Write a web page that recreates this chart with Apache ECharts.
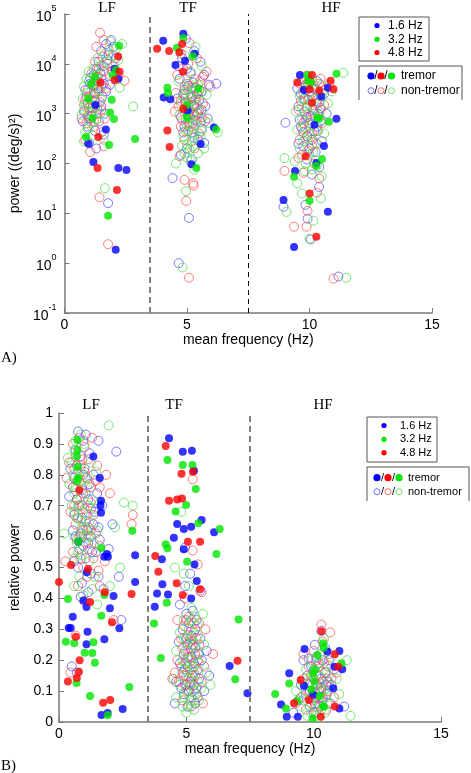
<!DOCTYPE html>
<html><head><meta charset="utf-8">
<script src="https://cdn.jsdelivr.net/npm/echarts@6/dist/echarts.min.js"></script>
<style>html,body{margin:0;padding:0;background:#fff}#c{width:471px;height:773px}</style>
</head><body><div id="c"></div>
<script>
// ---------- data: panel A (mean frequency Hz, power (deg/s)^2) ----------
const dividers = [3.5, 7.5];
const bandLabels = ['LF', 'TF', 'HF'];
const legendFreqs = ['1.6 Hz', '3.2 Hz', '4.8 Hz'];

const aBlueTremor = [[2.05,8e3],[2.2,5e3],[1.27,1.5e3],[1.69,480],[0.98,250],[1.18,107],[2.2,81],[2.53,74],[2.09,1.86],
 [4.03,2.9e4],[4.85,4e4],[5.31,1.6e4],[4.92,1.15e4],[4.53,9.5e3],[4.05,2.1e3],[4.32,1.95e3],[5.03,1.15e3],[6.1,530],[5.56,245],[5.18,97],
 [9.61,6e3],[9.77,3e3],[10.75,3.3e3],[10.48,2.2e3],[11.1,790],[10.2,600],[10.59,225],[10.28,102],[9.41,71],[8.94,18.5],[10.75,10.7],[9.37,2.1]];
const aGreenTremor = [[2.23,2.3e4],[2.1,7.5e3],[1.96,6e3],[1.93,1.9e3],[1.86,1.05e3],[2.02,780],[1.14,810],[0.98,2e3],[0.88,340],[1.82,235],[2.88,310],[1.78,8.9],[1.1,4e3],[1.25,5.5e3],
 [4.59,2.1e4],[4.85,3.3e4],[5.24,1.4e4],[4.2,3.3e3],[4.22,2.6e3],[5.47,3.2e3],[5.0,1.5e3],[5.0,830],[6.19,480],[5.38,81],
 [9.91,6e3],[9.95,4.7e3],[10.07,4.2e3],[11.1,6.3e3],[10.33,830],[10.4,800],[10.79,690],[10.51,123],[10.28,90],[9.37,54],[10.0,17.8]];
const aRedTremor = [[2.19,1.4e4],[2.25,6.9e3],[2.05,4.7e3],[1.47,4.2e3],[1.38,340],[1.35,81],[2.14,29.5],
 [3.78,2e4],[4.27,1.8e4],[4.8,2.5e4],[4.69,1.7e4],[4.84,6.9e3],[4.85,1.25e3],[4.2,460],[4.29,215],
 [9.5,4.2e3],[10.1,6e3],[10.86,4.6e3],[10.0,3.1e3],[10.4,2.9e3],[10.98,3.1e3],[10.1,1.65e3],[9.84,140],[10.0,25],[10.28,3.4]];

const aBlueNon = [[1.9,3.0e4],[1.7,2.5e4],[2.0,2.2e4],[1.5,1.8e4],[1.8,1.5e4],[2.1,1.3e4],[1.4,1.1e4],[1.6,9e3],[1.95,7e3],[1.2,6e3],[1.5,5e3],[1.05,4e3],[1.35,3.2e3],[1.7,2.8e3],[0.9,2.2e3],[1.2,1.8e3],[1.5,1.4e3],[0.8,1.1e3],[1.1,900],[1.4,700],[0.95,550],[1.25,450],[1.6,380],[1.0,260],[1.3,200],[1.78,16],[1.85,3.8e3],
 [1.25,2.6e3],[1.55,2.2e3],[0.95,1.6e3],[1.35,1.2e3],[1.65,1.0e3],[1.0,800],[1.2,3.6e3],[1.45,6.5e3],[1.75,1.2e4],[1.3,8e3],[1.05,5.2e3],[0.85,3e3],[1.6,4e3],[1.15,1.3e3],[0.75,700],
 [4.95,3.2e4],[5.3,1.8e4],[4.8,1.3e4],[5.55,1.1e4],[5.0,8e3],[5.7,6e3],[4.7,5e3],[5.25,4.2e3],[5.9,3.8e3],[4.9,3e3],[5.4,2.5e3],[4.6,2e3],[5.15,1.7e3],[5.75,1.4e3],[4.95,1.2e3],[5.45,1e3],[5.85,800],[5.1,650],[5.6,500],[4.85,420],[5.3,330],[5.7,260],[5.0,200],[4.75,150],[5.2,120],[4.41,51],[5.08,8.1],[4.66,1.0],[6.2,4e3],
 [5.05,3.6e3],[5.35,3.3e3],[5.6,2.8e3],[4.85,2.5e3],[5.2,2.1e3],[5.5,1.9e3],[4.95,1.6e3],[5.3,1.4e3],[5.6,1.2e3],[5.05,950],[5.35,750],[4.75,850],[5.55,680],[5.2,420],[5.45,300],[4.9,550],[5.15,6.5e3],[4.65,9e3],
 [9.7,5e3],[10.3,4.5e3],[9.5,3.2e3],[10.0,2.8e3],[10.6,2.5e3],[9.8,2e3],[10.4,1.7e3],[9.55,1.4e3],[10.15,1.2e3],[10.7,1e3],[9.9,850],[10.45,700],[9.65,550],[10.2,450],[9.9,350],[10.5,280],[9.75,220],[10.25,170],[9.9,120],[10.4,85],[10.1,60],[9.02,660],[8.94,13.5],[9.92,7.8],[10.05,3.0],[11.18,0.54],[9.84,14.8],[10.39,34],
 [9.85,3.8e3],[10.2,3.2e3],[9.65,2.5e3],[10.1,2.2e3],[10.45,1.3e3],[9.8,1.1e3],[10.05,900],[10.35,1e3],[9.6,750],[10.0,650],[10.3,550],[9.75,420],[10.1,300],[9.55,250],[10.0,200]];
const aRedNon = [[1.45,4.2e4],[1.6,3e4],[1.3,2.2e4],[1.8,1.9e4],[1.55,1.4e4],[1.25,1.1e4],[1.75,1e4],[1.4,8e3],[2.45,4.6e3],[2.2,5.5e3],[1.1,6.5e3],[1.3,4.5e3],[1.55,3.6e3],[0.95,3e3],[1.2,2.5e3],[0.85,1.9e3],[1.45,1.7e3],[1.0,1.3e3],[0.7,800],[1.3,1e3],[0.9,650],[1.2,550],[1.5,420],[0.85,300],[1.05,170],[1.43,21],[1.78,2.4],[1.6,220],
 [1.35,5.5e3],[1.6,7e3],[1.15,3.8e3],[1.4,2.8e3],[1.7,3.2e3],[1.0,2.2e3],[1.25,1.9e3],[0.8,1.5e3],[1.1,1.1e3],[1.5,1.2e3],[0.95,900],[1.65,800],[1.2,700],[2.0,9e3],[1.85,6e3],
 [5.1,2.6e4],[4.75,1.6e4],[5.4,1.3e4],[5.05,1e4],[5.8,7e3],[4.6,6e3],[5.3,5e3],[5.95,3.5e3],[5.0,4e3],[4.55,2.6e3],[5.5,3e3],[5.2,2.2e3],[4.75,1.8e3],[5.65,1.6e3],[5.05,1.4e3],[4.5,1.1e3],[5.35,900],[5.75,700],[4.8,750],[5.15,550],[5.5,400],[4.9,300],[5.3,200],[4.7,140],[4.9,47],[5.27,36],[4.97,17.8],[5.08,0.51],[5.25,40],[5.55,4.5e3],
 [4.9,3.5e3],[5.2,3.3e3],[5.45,2.5e3],[4.9,2.0e3],[5.35,1.9e3],[4.95,1.7e3],[5.25,1.5e3],[5.5,1.2e3],[4.65,1.4e3],[5.1,1.1e3],[5.4,1.05e3],[4.95,800],[5.6,850],[5.25,650],[5.05,450],[4.75,550],[5.65,5.5e3],[4.85,8e3],
 [9.9,5.8e3],[10.45,5e3],[9.6,4e3],[10.2,3.5e3],[10.8,3.8e3],[9.75,2.6e3],[10.35,2.3e3],[9.95,1.9e3],[10.6,1.5e3],[9.55,1.2e3],[10.2,1e3],[9.85,800],[10.5,650],[9.7,500],[10.1,400],[9.6,300],[10.3,250],[9.95,180],[9.55,130],[10.2,100],[9.75,65],[10.4,50],[8.98,71],[9.37,5.4],[9.88,5.4],[10.98,0.49],[9.92,11.2],[10.3,26],
 [10.0,4.5e3],[10.4,4e3],[9.8,3.3e3],[10.6,3e3],[10.1,2.6e3],[9.65,1.8e3],[10.3,1.6e3],[9.9,1.3e3],[10.45,1.2e3],[10.05,750],[9.75,650],[10.35,450],[9.9,350],[10.1,230],[9.7,150]];
const aGreenNon = [[2.35,2.5e4],[2.1,2e4],[1.85,2.8e4],[1.65,1.6e4],[2.2,1.2e4],[1.35,1.3e4],[1.0,7e3],[0.9,5e3],[1.15,4e3],[0.8,3.5e3],[1.45,3e3],[2.25,3.3e3],[0.75,2e3],[1.05,1.5e3],[2.8,1.4e3],[0.8,1.2e3],[1.3,750],[0.95,500],[1.6,300],[0.8,280],[1.15,360],[1.65,32],[1.3,6e3],
 [1.2,8e3],[1.5,9e3],[1.0,4.5e3],[1.3,3.5e3],[0.9,2.6e3],[1.15,2.2e3],[1.5,1.9e3],[0.85,1.6e3],[1.25,1.3e3],[1.05,1.1e3],[0.7,950],[1.45,1e3],[1.1,650],[0.85,420],[1.7,1.1e4],[2.0,1.5e4],
 [5.35,2.2e4],[4.9,1.5e4],[5.6,9e3],[5.15,7e3],[4.65,4.5e3],[5.45,3.8e3],[5.0,3.2e3],[5.8,2.4e3],[4.85,2.2e3],[5.3,1.9e3],[5.6,1.1e3],[4.7,950],[5.1,800],[5.9,650],[5.35,600],[4.95,450],[5.55,350],[5.2,280],[4.8,230],[5.1,190],[5.45,160],[5.0,130],[4.55,100],[5.3,75],[4.95,28],[4.82,0.82],[6.25,420],[5.7,200],
 [5.1,4e3],[5.35,3e3],[4.95,2.6e3],[5.6,2.7e3],[5.15,2.3e3],[4.75,1.6e3],[5.05,1.3e3],[5.4,1.5e3],[5.2,1e3],[4.9,1.1e3],[5.5,800],[5.0,600],[5.25,500],[5.6,450],[4.85,350],[5.3,370],[5.0,240],[5.25,220],[4.9,160],[5.15,110],
 [10.1,5.5e3],[11.38,6.6e3],[9.8,4.5e3],[10.5,3.8e3],[10.9,2.8e3],[9.6,2.3e3],[10.25,2e3],[10.75,1.6e3],[9.9,1.4e3],[9.45,1.1e3],[10.4,950],[9.7,750],[10.1,600],[9.5,480],[10.6,400],[9.85,320],[10.25,260],[9.6,200],[10.0,150],[9.4,110],[10.3,90],[9.8,70],[10.5,55],[8.98,128],[9.06,10.7],[10.16,7.1],[10.0,3.1],[11.5,0.51],[9.69,25],[10.47,20],[9.5,40],
 [9.95,3.6e3],[10.3,2.9e3],[9.75,2e3],[10.5,2.2e3],[10.05,1.7e3],[9.7,1.3e3],[10.2,1.2e3],[9.95,1e3],[10.5,750],[9.8,550],[10.3,450],[10.0,380],[9.75,280],[10.15,170],[9.85,100],[10.1,75]];

// ---------- data: panel B (mean frequency Hz, relative power) ----------
const bBlueTremor = [[1.35,0.859],[1.6,0.79],[1.65,0.716],[1.63,0.70],[1.65,0.677],[0.76,0.583],[1.78,0.535],[1.88,0.544],[1.92,0.535],[2.99,0.54],[1.09,0.485],
 [0.96,0.393],[1.08,0.372],[2.14,0.408],[2.99,0.453],[0.54,0.341],[0.38,0.304],[0.46,0.304],[1.12,0.292],[1.08,0.252],[1.78,0.268],[2.0,0.368],[2.37,0.303],[2.5,0.042],[1.67,0.023],[1.91,0.029],
 [4.32,0.918],[4.86,0.875],[5.22,0.878],[5.3,0.813],[4.64,0.641],[4.9,0.625],[5.19,0.632],[5.6,0.654],[6.09,0.614],[4.51,0.596],[4.9,0.559],[4.04,0.527],[5.32,0.51],
 [5.41,0.456],[4.06,0.446],[3.85,0.416],[4.28,0.413],[5.19,0.4],[3.76,0.373],[6.7,0.181],[7.4,0.093],
 [8.72,0.057],[9.04,0.158],[9.64,0.236],[8.94,0.017],[9.38,0.017],[9.62,0.117],[10.54,0.228],[11.01,0.23],[11.12,0.171],[10.82,0.179],[10.77,0.109],[11.01,0.044],[9.98,0.088]];
const bGreenTremor = [[0.73,0.826],[0.74,0.79],[0.72,0.913],[0.72,0.88],[0.7,0.86],[0.71,0.78],[0.76,0.583],[1.66,0.563],[2.88,0.619],
 [0.35,0.398],[1.78,0.411],[0.27,0.26],[0.6,0.255],[1.35,0.258],[1.66,0.344],[1.01,0.224],[1.31,0.223],[1.41,0.192],[0.69,0.126],[1.22,0.084],[2.76,0.113],[1.91,0.022],
 [4.26,0.848],[4.86,0.832],[5.24,0.832],[5.37,0.754],[4.99,0.702],[4.58,0.681],[5.47,0.643],[6.31,0.625],[4.19,0.575],[4.26,0.562],[6.18,0.544],[5.03,0.519],
 [4.23,0.386],[3.73,0.319],[4.0,0.207],[7.05,0.332],[6.92,0.138],
 [8.49,0.091],[9.04,0.125],[8.91,0.044],[9.36,0.069],[10.03,0.168],[9.97,0.157],[10.03,0.131],[9.9,0.105],[10.24,0.084],[10.37,0.05],[9.96,0.012],[10.37,0.255],[10.4,0.24],[10.15,0.217],[11.09,0.19],[10.4,0.05]];
const bRedTremor = [[0.8,0.75],[0.47,0.508],[1.14,0.495],[0.0,0.453],[1.22,0.388],[1.8,0.42],[2.85,0.414],[0.66,0.276],[2.08,0.323],[0.81,0.2],[0.78,0.163],[0.35,0.131],[0.7,0.142],[1.73,0.062],[2.01,0.071],
 [4.19,0.893],[4.81,0.803],[5.26,0.81],[4.32,0.716],[4.64,0.72],[4.83,0.723],[5.06,0.583],[5.54,0.583],[3.78,0.537],[3.9,0.486],
 [5.54,0.43],[4.62,0.449],[4.86,0.411],[7.01,0.198],
 [9.49,0.136],[9.23,0.061],[9.81,0.071],[10.28,0.017],[10.3,0.294],[10.83,0.219],[10.96,0.179],[10.83,0.05]];

const bBlueNon = [[0.75,0.94],[1.05,0.93],[0.95,0.91],[1.55,0.91],[0.65,0.88],[1.2,0.87],[0.85,0.86],[2.25,0.875],[0.45,0.82],[1.0,0.82],[1.35,0.8],[0.6,0.79],[1.2,0.77],[0.9,0.75],[1.5,0.74],[0.4,0.73],[1.15,0.72],[0.8,0.7],[1.7,0.70],[1.4,0.68],[0.6,0.67],[1.05,0.65],[1.55,0.63],[2.1,0.64],[0.85,0.61],[1.25,0.6],[1.6,0.59],[0.95,0.57],[1.3,0.55],[1.05,0.53],[1.95,0.56],[0.75,0.5],[1.25,0.48],[1.55,0.47],[0.9,0.45],[2.35,0.47],[1.75,0.43],[0.85,0.405],[2.45,0.33],[0.5,0.18],[0.7,0.16],[1.15,0.42],[0.6,0.52],
 [0.7,0.83],[0.95,0.8],[0.55,0.76],[1.05,0.74],[0.7,0.72],[1.25,0.69],[0.9,0.66],[0.55,0.62],[1.15,0.58],[0.8,0.56],[1.45,0.55],[1.1,0.62],[0.65,0.6],[1.35,0.64],
 [4.95,0.565],[5.15,0.48],[5.55,0.425],[4.95,0.44],[5.0,0.35],[5.4,0.33],[4.85,0.3],[5.2,0.28],[5.55,0.27],[4.7,0.26],[5.05,0.25],[5.35,0.24],[5.8,0.23],[4.9,0.22],[5.2,0.21],[5.6,0.2],[4.75,0.19],[5.05,0.18],[5.45,0.17],[5.9,0.15],[4.85,0.16],[5.25,0.15],[4.6,0.13],[5.0,0.12],[5.4,0.11],[5.7,0.1],[4.9,0.09],[5.2,0.08],[4.55,0.06],[5.05,0.05],[5.35,0.06],[4.75,0.38],[5.25,0.36],
 [5.1,0.32],[5.35,0.3],[5.0,0.27],[5.25,0.25],[5.5,0.22],[5.05,0.21],[5.3,0.19],[4.95,0.17],[5.15,0.13],[5.5,0.14],[5.3,0.12],[5.1,0.1],[5.45,0.08],[4.8,0.11],
 [10.3,0.295],[9.6,0.2],[9.8,0.205],[10.05,0.25],[10.45,0.24],[9.9,0.18],[10.2,0.19],[10.6,0.2],[9.75,0.15],[10.1,0.15],[10.45,0.16],[10.8,0.17],[9.5,0.12],[9.95,0.12],[10.3,0.11],[10.7,0.12],[9.7,0.09],[10.1,0.08],[10.5,0.09],[9.4,0.07],[9.85,0.05],[10.25,0.05],[10.65,0.06],[10.0,0.03],[11.2,0.05],[9.2,0.03],
 [10.1,0.21],[10.35,0.2],[10.0,0.17],[10.3,0.14],[10.55,0.13],[10.15,0.12],[9.85,0.1],[10.35,0.08],[10.05,0.06],[10.5,0.12]];
const bRedNon = [[0.8,0.92],[0.55,0.9],[1.0,0.89],[1.3,0.92],[0.65,0.86],[1.15,0.85],[0.4,0.84],[0.85,0.83],[1.5,0.83],[0.3,0.79],[0.7,0.78],[1.1,0.79],[1.45,0.78],[1.85,0.8],[0.55,0.76],[0.95,0.74],[1.6,0.76],[2.0,0.74],[0.7,0.72],[1.25,0.71],[0.45,0.68],[1.0,0.69],[1.35,0.67],[0.65,0.64],[1.15,0.63],[0.85,0.6],[1.45,0.61],[1.05,0.58],[1.6,0.57],[0.55,0.55],[1.35,0.53],[1.8,0.52],[0.25,0.52],[0.95,0.5],[1.55,0.49],[1.1,0.47],[0.75,0.44],[1.6,0.44],[2.15,0.33],[1.0,0.39],[0.45,0.16],[0.65,0.28],[2.9,0.67],[2.85,0.64],
 [0.9,0.85],[0.6,0.82],[1.0,0.81],[0.8,0.78],[1.25,0.76],[0.6,0.7],[0.9,0.7],[1.1,0.67],[0.75,0.66],[1.25,0.62],[0.95,0.62],[0.7,0.59],[1.2,0.56],[0.85,0.53],
 [5.25,0.785],[5.25,0.555],[5.45,0.51],[4.95,0.40],[5.6,0.42],[4.65,0.33],[5.1,0.34],[5.5,0.32],[4.9,0.31],[5.3,0.29],[5.75,0.3],[4.8,0.27],[5.15,0.26],[5.5,0.25],[6.05,0.22],[4.95,0.23],[5.35,0.22],[4.65,0.2],[5.0,0.19],[5.3,0.18],[5.7,0.18],[4.55,0.16],[4.9,0.15],[5.2,0.14],[5.6,0.13],[4.7,0.13],[5.05,0.1],[5.4,0.09],[4.85,0.07],[5.2,0.05],[4.45,0.14],[5.65,0.06],
 [5.0,0.33],[5.3,0.32],[5.05,0.28],[5.4,0.27],[5.2,0.24],[4.85,0.24],[5.1,0.21],[5.45,0.2],[5.2,0.17],[4.8,0.18],[5.0,0.15],[5.35,0.15],[5.15,0.12],[4.95,0.12],
 [10.3,0.315],[10.65,0.29],[9.6,0.22],[10.0,0.23],[10.35,0.26],[10.6,0.22],[9.8,0.18],[10.2,0.18],[10.55,0.18],[10.9,0.16],[9.6,0.14],[10.0,0.14],[10.35,0.13],[10.7,0.14],[9.8,0.1],[10.15,0.1],[10.55,0.1],[9.5,0.08],[9.95,0.07],[10.35,0.07],[9.7,0.04],[10.1,0.03],[10.5,0.04],[9.3,0.06],[10.8,0.08],
 [10.1,0.2],[10.4,0.19],[9.9,0.15],[10.2,0.15],[10.5,0.14],[10.1,0.12],[10.3,0.1],[9.95,0.09],[10.25,0.08],[10.05,0.05]];
const bGreenNon = [[1.95,0.96],[0.85,0.93],[0.35,0.855],[0.6,0.88],[1.0,0.9],[0.5,0.84],[0.75,0.81],[1.25,0.84],[0.4,0.77],[1.45,0.81],[0.9,0.78],[0.6,0.74],[1.1,0.76],[0.75,0.7],[1.3,0.72],[0.5,0.7],[0.95,0.68],[1.45,0.69],[0.7,0.66],[1.2,0.65],[0.9,0.63],[1.5,0.62],[0.2,0.61],[1.05,0.6],[0.7,0.58],[1.35,0.58],[0.6,0.53],[0.9,0.54],[1.2,0.52],[2.4,0.5],[0.8,0.47],[1.4,0.47],[0.6,0.44],[1.3,0.43],[2.0,0.44],[2.2,0.63],[2.9,0.7],[2.55,0.71],[1.5,0.38],[0.95,0.41],
 [0.65,0.91],[0.55,0.8],[0.85,0.82],[1.05,0.79],[0.65,0.76],[0.85,0.73],[1.15,0.7],[0.6,0.68],[0.85,0.65],[1.05,0.63],[0.6,0.6],[0.8,0.6],[1.2,0.6],[0.75,0.55],
 [4.8,0.68],[4.55,0.5],[5.1,0.44],[5.2,0.37],[4.9,0.33],[5.35,0.34],[5.65,0.35],[4.75,0.29],[5.1,0.3],[5.45,0.28],[4.6,0.23],[5.0,0.26],[5.3,0.25],[5.7,0.25],[4.85,0.2],[5.2,0.2],[5.5,0.19],[4.5,0.14],[4.95,0.17],[5.3,0.16],[5.8,0.16],[5.1,0.14],[5.45,0.13],[4.75,0.12],[5.95,0.12],[5.0,0.1],[5.3,0.1],[4.6,0.08],[5.15,0.07],[5.5,0.07],[4.85,0.05],[5.0,0.03],[5.3,0.04],[4.9,0.48],
 [5.2,0.33],[5.45,0.31],[4.9,0.27],[5.2,0.27],[5.05,0.23],[5.45,0.22],[4.95,0.19],[5.3,0.18],[5.05,0.16],[5.2,0.12],[5.6,0.11],[4.9,0.08],[5.3,0.07],[5.1,0.05],
 [10.4,0.27],[10.25,0.22],[11.3,0.2],[9.9,0.2],[10.7,0.21],[9.7,0.17],[10.05,0.17],[10.4,0.17],[10.9,0.14],[9.55,0.13],[9.85,0.13],[10.2,0.13],[10.6,0.12],[9.7,0.1],[10.05,0.1],[10.4,0.1],[9.5,0.05],[9.9,0.06],[10.2,0.06],[10.55,0.06],[9.75,0.02],[10.1,0.02],[10.45,0.03],[11.45,0.02],[9.3,0.1],[11.0,0.09],
 [10.2,0.19],[10.5,0.16],[9.95,0.15],[10.25,0.1],[10.5,0.08],[10.0,0.08],[10.3,0.04],[9.9,0.03],[10.2,0.015],[9.6,0.07]];

// ---------- styling ----------
const SANS = '"Liberation Sans", Arial, Helvetica, sans-serif';
const SERIF = '"Liberation Serif", "Times New Roman", serif';
const C = { blue: '#0000ff', red: '#ff0000', green: '#00e600' };
const CO = { blue: '#4a4aff', red: '#ff4a4a', green: '#44dd44' };
const AX = '#7a7a7a';

function openS(data, col, gi) {
  return { type: 'scatter', xAxisIndex: gi, yAxisIndex: gi, data, symbol: 'circle', symbolSize: 9,
    itemStyle: { color: 'rgba(255,255,255,0)', borderColor: col, borderWidth: 0.9 }, silent: true, z: 2 };
}
function fillS(data, col, gi) {
  return { type: 'scatter', xAxisIndex: gi, yAxisIndex: gi, data, symbol: 'circle', symbolSize: 8,
    itemStyle: { color: col }, silent: true, z: 3 };
}
function divLine(gi, styles) {
  return { type: 'scatter', xAxisIndex: gi, yAxisIndex: gi, data: [], silent: true, z: 1,
    markLine: { silent: true, symbol: 'none', label: { show: false }, animation: false,
      data: dividers.map((d, i) => ({ xAxis: d, lineStyle: styles[i] })) } };
}
function xAx(gi) {
  return { gridIndex: gi, type: 'value', min: 0, max: 15, interval: 5,
    axisLine: { show: true, lineStyle: { color: AX, width: 1.5 } },
    axisTick: { show: true, inside: true, length: 5, lineStyle: { color: AX } },
    axisLabel: { color: '#000', fontSize: 14, fontFamily: SANS, margin: 5 },
    splitLine: { show: false },
    name: 'mean frequency (Hz)', nameLocation: 'middle', nameGap: 19,
    nameTextStyle: { color: '#000', fontSize: 14, fontFamily: SANS } };
}

const graphics = [];
function txt(x, y, s, size, font, align) {
  graphics.push({ type: 'text', x, y, style: { text: s, font: size + 'px ' + font, fill: '#000',
    textAlign: align || 'center', textVerticalAlign: 'middle' }, silent: true });
}
function circ(cx, cy, r, col, filled) {
  graphics.push({ type: 'circle', shape: { cx, cy, r }, style: filled ? { fill: col } : { fill: 'none', stroke: col, lineWidth: 0.8 }, silent: true });
}
function legend(b1, dotX, textX, rowYs, b2, row1y, row2y, sx, tx, fs) {
  graphics.push({ type: 'rect', shape: { x: b1[0], y: b1[1], width: b1[2], height: b1[3] },
    style: { fill: '#fff', stroke: '#555', lineWidth: 1 }, silent: true, z: 10 });
  const cols = [C.blue, C.green, C.red];
  rowYs.forEach((y, i) => { circ(dotX, y, 2.6, cols[i], true); txt(textX, y, legendFreqs[i], fs, SANS, 'left'); });
  graphics.push({ type: 'rect', shape: { x: b2[0], y: b2[1], width: b2[2], height: b2[3] },
    style: { fill: '#fff', stroke: 'none' }, silent: true, z: 10 });
  graphics.push({ type: 'polyline', shape: { points: [[b2[0], b2[1] + b2[3]], [b2[0], b2[1]], [b2[0] + b2[2], b2[1]], [b2[0] + b2[2], b2[1] + b2[3]]] },
    style: { stroke: '#555', lineWidth: 1, fill: 'none' }, silent: true, z: 10 });
  const tc = [C.blue, C.red, C.green], oc = [CO.blue, CO.red, CO.green];
  sx.forEach((x, i) => {
    circ(x, row1y, 3.6, tc[i], true);
    circ(x, row2y, 3.0, oc[i], false);
    if (i < 2) { txt(x + (sx[1] - sx[0]) / 2, row1y, '/', fs, SANS); txt(x + (sx[1] - sx[0]) / 2, row2y, '/', fs, SANS); }
  });
  txt(tx, row1y, 'tremor', fs, SANS, 'left');
  txt(tx, row2y, 'non-tremor', fs, SANS, 'left');
}

[[107, 8], [188, 8], [331, 8]].forEach((p, i) => txt(p[0], p[1], bandLabels[i], 15, SERIF));
[[91, 405], [174, 405], [323, 405]].forEach((p, i) => txt(p[0], p[1], bandLabels[i], 15, SERIF));
txt(1, 358, 'A)', 15, SERIF, 'left');
txt(1, 766, 'B)', 15, SERIF, 'left');
legend([359, 17, 70, 44], 377, 388, [25.5, 39.3, 52.5], [359, 66, 103, 34], 76, 90.7, [371, 381, 391.5], 401, 12);
legend([367, 417, 70, 45], 384, 400, [425.5, 439.3, 452.7], [367, 467, 102, 34], 477.7, 491.7, [377, 388, 399], 408, 11);
graphics.forEach(g => { g.z = g.z || 11; });

const option = {
  backgroundColor: '#fff',
  animation: false,
  grid: [
    { left: 51, top: 14, width: 381, height: 299, containLabel: false },
    { left: 51, top: 413, width: 390, height: 309, containLabel: false }
  ],
  xAxis: [xAx(0), xAx(1)],
  yAxis: [
    { gridIndex: 0, type: 'log', logBase: 10, min: 0.1, max: 1e5,
      axisLine: { show: true, lineStyle: { color: AX, width: 1.5 } },
      axisTick: { show: true, inside: true, length: 5, lineStyle: { color: AX } },
      splitLine: { show: false },
      axisLabel: { margin: 8, formatter: v => '{b|10}{s|' + Math.round(Math.log10(v)) + '}',
        rich: { b: { fontSize: 14, fontFamily: SANS, color: '#000', lineHeight: 20, verticalAlign: 'bottom' },
                s: { fontSize: 9, fontFamily: SANS, color: '#000', lineHeight: 20, verticalAlign: 'top' } } },
      name: 'power ((deg/s)²)', nameLocation: 'middle', nameGap: 37,
      nameTextStyle: { color: '#000', fontSize: 14, fontFamily: SANS } },
    { gridIndex: 1, type: 'value', min: 0, max: 1, interval: 0.1,
      axisLine: { show: true, lineStyle: { color: AX, width: 1.5 } },
      axisTick: { show: true, inside: true, length: 5, lineStyle: { color: AX } },
      splitLine: { show: false },
      axisLabel: { color: '#000', fontSize: 14, fontFamily: SANS, margin: 6 },
      name: 'relative power', nameLocation: 'middle', nameGap: 37,
      nameTextStyle: { color: '#000', fontSize: 14, fontFamily: SANS } }
  ],
  series: [
    divLine(0, [{ type: [6, 4], color: '#808080', width: 2 }, { type: [5, 4], color: '#000', width: 1 }]),
    openS(aBlueNon, CO.blue, 0), openS(aRedNon, CO.red, 0), openS(aGreenNon, CO.green, 0),
    fillS(aBlueTremor, C.blue, 0), fillS(aGreenTremor, C.green, 0), fillS(aRedTremor, C.red, 0),
    divLine(1, [{ type: [6, 4], color: '#808080', width: 2 }, { type: [6, 4], color: '#808080', width: 2 }]),
    openS(bBlueNon, CO.blue, 1), openS(bRedNon, CO.red, 1), openS(bGreenNon, CO.green, 1),
    fillS(bBlueTremor, C.blue, 1), fillS(bGreenTremor, C.green, 1), fillS(bRedTremor, C.red, 1)
  ],
  graphic: { elements: graphics }
};
const chart = echarts.init(document.getElementById('c'), null, { renderer: 'canvas' });
chart.setOption(option);
</script></body></html>
